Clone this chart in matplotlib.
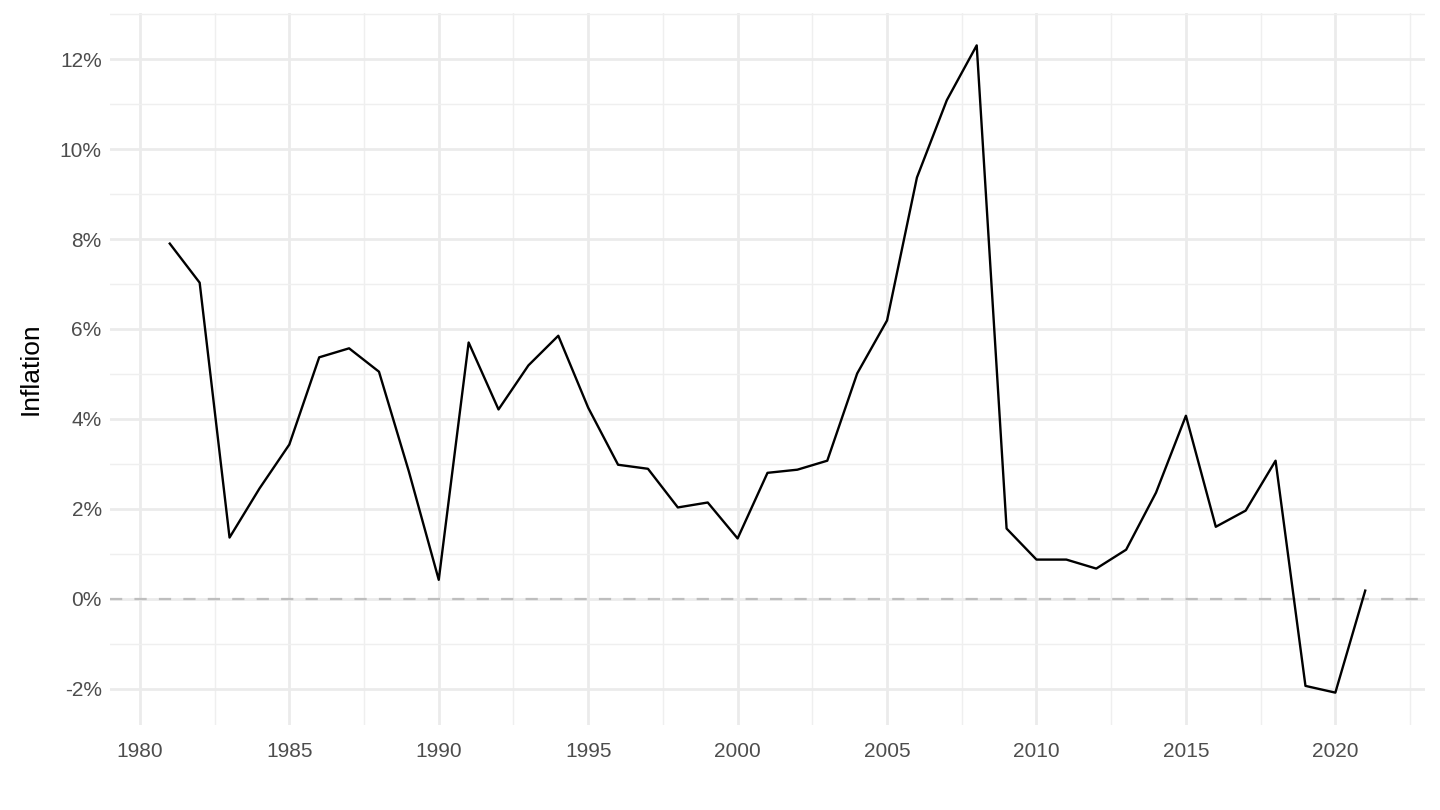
import matplotlib.pyplot as plt
from matplotlib.ticker import FuncFormatter, MultipleLocator

years = list(range(1981, 2022))
inflation = [7.90, 7.03, 1.36, 2.45, 3.43, 5.37, 5.57, 5.05, 2.83, 0.42,
             5.70, 4.21, 5.19, 5.85, 4.25, 2.98, 2.89, 2.03, 2.14, 1.34,
             2.80, 2.87, 3.07, 5.01, 6.19, 9.37, 11.09, 12.31, 1.56, 0.87,
             0.87, 0.67, 1.09, 2.36, 4.07, 1.60, 1.96, 3.07, -1.94, -2.09,
             0.18]
x_ticks = [1980, 1985, 1990, 1995, 2000, 2005, 2010, 2015, 2020]

plt.rcParams['font.family'] = ['Liberation Sans', 'DejaVu Sans']

fig = plt.figure(figsize=(14.4, 8.1), dpi=100)
ax = fig.add_axes([110 / 1440, 1 - 725 / 810, (1425 - 110) / 1440, (725 - 13) / 810])

# ggplot-like 5% expansion
xr = years[-1] - years[0]
ax.set_xlim(years[0] - 0.05 * xr, years[-1] + 0.05 * xr)
yr = max(inflation) - min(inflation)
ax.set_ylim(min(inflation) - 0.05 * yr, max(inflation) + 0.05 * yr)

ax.xaxis.set_minor_locator(MultipleLocator(2.5))
ax.yaxis.set_major_locator(MultipleLocator(2))
ax.yaxis.set_minor_locator(MultipleLocator(1))
ax.set_xticks(x_ticks)
ax.yaxis.set_major_formatter(FuncFormatter(lambda v, p: "%d%%" % round(v)))

ax.grid(which='major', color='#EBEBEB', linewidth=2.0)
ax.grid(which='minor', color='#EFEFEF', linewidth=1.0)
ax.set_axisbelow(True)
for s in ax.spines.values():
    s.set_visible(False)
ax.tick_params(which='both', length=0, labelsize=15, labelcolor='#4D4D4D')
ax.tick_params(axis='x', pad=12)
ax.tick_params(axis='y', pad=6)

ax.axhline(0, color='#BEBEBE', linestyle=(0, (5.5, 5.5)), linewidth=1.6)
ax.plot(years, inflation, color='black', linewidth=1.7)

ax.set_ylabel("Inflation", fontsize=19, color='black', labelpad=12)

fig.savefig("out.png", dpi=100)
